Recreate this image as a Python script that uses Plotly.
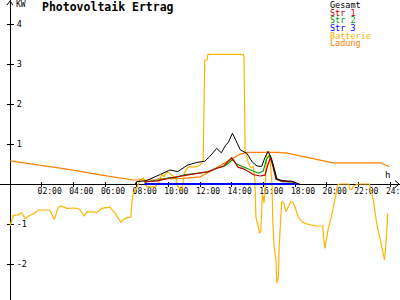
import plotly.graph_objects as go

# ---------------- data ----------------
hours_ticks = [2, 4, 6, 8, 10, 12, 14, 16, 18, 20, 22, 24]
hour_labels = ["02:00", "04:00", "06:00", "08:00", "10:00", "12:00",
               "14:00", "16:00", "18:00", "20:00", "22:00", "24:00"]
kw_ticks = [-2, -1, 1, 2, 3, 4]
kw_labels = ["-2", "-1", "1", "2", "3", "4"]

t_gesamt = [7.9, 8.0, 8.6, 8.9, 9.5, 10.1, 10.6, 11.2, 11.8, 12.3, 12.6, 13.05, 13.35,
            13.6, 13.8, 14.05, 14.3, 14.55, 14.95, 15.3, 15.6, 15.9, 16.1, 16.3, 16.5,
            16.65, 16.85, 17.3, 17.8, 18.1, 18.3]
gesamt = [0.0, 0.06, 0.08, 0.14, 0.24, 0.35, 0.31, 0.47, 0.54, 0.57, 0.68, 0.89, 0.78,
          0.96, 1.05, 1.27, 1.05, 0.85, 0.77, 0.55, 0.45, 0.44, 0.66, 0.81, 0.66,
          0.42, 0.12, 0.08, 0.07, 0.02, 0.0]

t_str1 = [8.5, 9.3, 10.1, 11.0, 11.7, 12.0, 12.5, 13.0, 13.5, 14.0, 14.4, 14.75, 15.1,
          15.4, 15.8, 16.1, 16.3, 16.45, 16.6, 16.8, 17.2, 17.9, 18.2]
str1 = [0.05, 0.08, 0.15, 0.21, 0.25, 0.28, 0.31, 0.38, 0.45, 0.66, 0.42, 0.38, 0.3,
        0.23, 0.2, 0.22, 0.5, 0.66, 0.45, 0.12, 0.07, 0.05, 0.0]

t_str2 = [8.5, 8.7, 9.3, 9.4, 10.1, 10.4, 11.0, 11.9, 12.5, 13.05, 13.5, 13.8, 14.07,
          14.3, 14.7, 15.3, 15.7, 16.0, 16.2, 16.4, 16.6, 16.85, 17.15, 17.9, 18.2]
str2 = [0.05, 0.06, 0.08, 0.1, 0.16, 0.16, 0.23, 0.27, 0.3, 0.4, 0.44, 0.52, 0.62,
        0.5, 0.43, 0.34, 0.27, 0.33, 0.62, 0.72, 0.5, 0.14, 0.06, 0.05, 0.0]

t_str3 = [8.5, 18.2]
str3 = [0.0, 0.0]

t_batt = [0.0, 0.2, 0.5, 0.74, 0.95, 1.26, 1.47, 1.79, 2.5, 2.8, 3.05, 3.26, 3.58, 4.1,
          4.4, 4.67, 4.88, 5.47, 5.8, 6.3, 6.63, 7.0, 7.26, 7.6, 7.64, 7.7, 7.79, 8.0,
          8.2, 8.42, 8.63, 8.95, 9.16, 9.37, 9.58, 9.75, 9.9, 10.2, 10.5, 10.6, 10.85,
          10.95, 11.05, 11.26, 11.7, 12.0, 12.2, 12.3, 12.45, 12.5, 14.74, 14.78, 14.82,
          14.85, 15.05, 15.2, 15.37, 15.47, 15.5, 15.53, 15.7, 15.75, 15.84, 15.9, 15.94,
          16.0, 16.04, 16.1, 16.17, 16.22, 16.35, 16.42, 16.55, 16.6, 16.68, 16.8, 16.85,
          16.95, 17.0, 17.1, 17.16, 17.3, 17.43, 17.58, 17.73, 17.86, 18.0, 18.2, 18.43,
          18.63, 18.95, 19.37, 19.75, 19.8, 19.9, 19.96, 20.1, 20.3, 20.47, 20.6, 20.68,
          20.8, 21.4, 21.45, 21.6, 21.7, 22.0, 22.7, 22.8, 22.95, 23.06, 23.2, 23.37,
          23.48, 23.58, 23.65, 23.73, 23.8, 23.86]
batterie = [-1.05, -0.79, -0.77, -0.72, -0.86, -0.78, -0.75, -0.65, -0.65, -0.88, -0.58,
            -0.55, -0.61, -0.6, -0.63, -0.8, -0.69, -0.71, -0.61, -0.58, -0.73, -0.96,
            -0.86, -0.82, -0.82, -0.45, -0.23, -0.11, 0.1, 0.14, -0.07, -0.07, -0.07,
            0.02, 0.23, 0.18, 0.31, 0.23, 0.14, -0.07, -0.15, 0.1, 0.31, 0.43, 0.43,
            0.47, 0.6, 3.1, 3.1, 3.24, 3.24, 3.14, 2.2, 0.85, 0.52, 0.42, 0.42, 0.1,
            -0.4, -0.82, -1.11, -1.23, -1.19, -0.73, -0.27, -0.32, -0.48, -0.23, 0.6,
            0.81, 0.81, 0.6, 0.0, -1.0, -1.57, -1.9, -2.48, -2.32, -1.57, -0.57, -0.44,
            -0.48, -0.69, -0.57, -0.44, -0.46, -0.57, -0.82, -0.94, -0.98, -1.02, -1.05,
            -1.05, -1.32, -1.61, -1.44, -1.11, -0.82, -0.52, -0.23, -0.03, 0.0, 0.0,
            -0.13, -0.13, -0.05, 0.0, 0.0, -0.19, -0.4, -0.73, -1.07, -1.36, -1.57,
            -1.82, -1.9, -1.57, -1.15, -0.73]

t_ladung = [0.0, 1.5, 3.6, 5.7, 7.8, 9.3, 9.35, 11.0, 11.5, 12.0, 12.5, 13.0, 13.5,
            14.0, 14.5, 15.0, 16.9, 17.5, 18.1, 18.7, 19.4, 20.0, 20.4, 23.4, 23.7, 23.95]
ladung = [0.58, 0.5, 0.37, 0.23, 0.1, 0.1, 0.13, 0.14, 0.16, 0.18, 0.28, 0.4, 0.5,
          0.62, 0.74, 0.79, 0.79, 0.77, 0.72, 0.67, 0.62, 0.56, 0.53, 0.53, 0.47, 0.43]

series_names = ["Gesamt", "Str 1", "Str 2", "Str 3", "Batterie", "Ladung"]
series_colors = ["#000000", "#C00000", "#00A000", "#0000FF", "#FFB400", "#FF8000"]

# ---------------- figure ----------------
W, H = 400, 300
PX_PER_H = 380 / 24.0
PX_PER_KW = 40.0
X0_PX, Y0_PX = 10, 184
xr = [-X0_PX / PX_PER_H, (W - X0_PX) / PX_PER_H]
yr = [-(H - Y0_PX) / PX_PER_KW, Y0_PX / PX_PER_KW]
xpos = (H - Y0_PX) / H
ypos = X0_PX / W

MONO = "DejaVu Sans Mono"
fig = go.Figure()

order = [("Batterie", t_batt, batterie, 1.2),
         ("Ladung", t_ladung, ladung, 1.2),
         ("Str 3", t_str3, str3, 1.8),
         ("Str 2", t_str2, str2, 1.2),
         ("Str 1", t_str1, str1, 1.2),
         ("Gesamt", t_gesamt, gesamt, 1.0)]
for name, tx, vy, w in order:
    c = series_colors[series_names.index(name)]
    fig.add_trace(go.Scatter(x=tx, y=vy, mode="lines", name=name,
                             line=dict(color=c, width=w), showlegend=False,
                             hoverinfo="skip"))

# dummy trace for the overlay axes (other half of the tick crosses)
fig.add_trace(go.Scatter(x=[None], y=[None], xaxis="x2", yaxis="y2",
                         showlegend=False, hoverinfo="skip"))

axis_common = dict(showgrid=False, zeroline=False, tickcolor="black",
                   tickwidth=1, layer="below traces", automargin=False)
fig.update_layout(
    width=W, height=H, margin=dict(l=0, r=0, t=0, b=0, autoexpand=False),
    paper_bgcolor="white", plot_bgcolor="white", showlegend=False,
    xaxis=dict(range=xr, domain=[0, 1], anchor="free", position=xpos,
               showline=True, linecolor="black", linewidth=1,
               tickvals=hours_ticks, ticktext=hour_labels, ticks="outside",
               ticklen=2, ticklabelshift=8, ticklabelstandoff=-3,
               ticklabeloverflow="allow",
               tickfont=dict(family=MONO, size=8, color="black"), **axis_common),
    yaxis=dict(range=yr, domain=[0, 1], anchor="free", position=ypos, side="right",
               showline=True, linecolor="black", linewidth=1,
               tickvals=kw_ticks, ticktext=kw_labels, ticks="outside", ticklen=3,
               ticklabelstandoff=1,
               tickfont=dict(family=MONO, size=8.5, color="black"), **axis_common),
    xaxis2=dict(range=xr, overlaying="x", anchor="free", position=xpos, side="top",
                showline=False, tickvals=hours_ticks, ticks="outside", ticklen=2,
                showticklabels=False, **axis_common),
    yaxis2=dict(range=yr, overlaying="y", anchor="free", position=ypos, side="left",
                showline=False, tickvals=kw_ticks, ticks="outside", ticklen=3,
                showticklabels=False, **axis_common),
)

# title, unit labels
fig.add_annotation(text="<b>Photovoltaik Ertrag</b>", xref="paper", yref="paper",
                   x=40 / W, y=1 - 7 / H, xanchor="left", yanchor="middle",
                   showarrow=False, font=dict(family=MONO, size=11.5, color="black"))
fig.add_annotation(text="KW", xref="paper", yref="paper", x=14 / W, y=1 - 4.5 / H,
                   xanchor="left", yanchor="middle", showarrow=False,
                   font=dict(family=MONO, size=8, color="black"))
fig.add_annotation(text="h", xref="paper", yref="paper", x=387 / W, y=1 - 175 / H,
                   xanchor="center", yanchor="middle", showarrow=False,
                   font=dict(family=MONO, size=9, color="black"))

# legend: one block of coloured text lines (tight line spacing like the original)
legend_text = "<br>".join(
    f"<span style='color:{c};font-size:8.5px'>{n}</span>"
    for n, c in zip(series_names, series_colors))
fig.add_annotation(text=legend_text, xref="paper", yref="paper", x=328 / W, y=1 + 2 / H,
                   xanchor="left", yanchor="top", align="left", showarrow=False,
                   font=dict(family=MONO, size=5.9, color="black"))

# axis arrow heads
def P(px, py):
    return f"{px / W:.5f},{1 - py / H:.5f}"

fig.add_shape(type="path", xref="paper", yref="paper",
              path=f"M{P(7, 5)} L{P(10, 1)} L{P(13, 5)}",
              line=dict(color="black", width=1))
fig.add_shape(type="path", xref="paper", yref="paper",
              path=f"M{P(395, 180.5)} L{P(399, 184)} L{P(395, 187.5)}",
              line=dict(color="black", width=1))

fig.write_html("out.html")
